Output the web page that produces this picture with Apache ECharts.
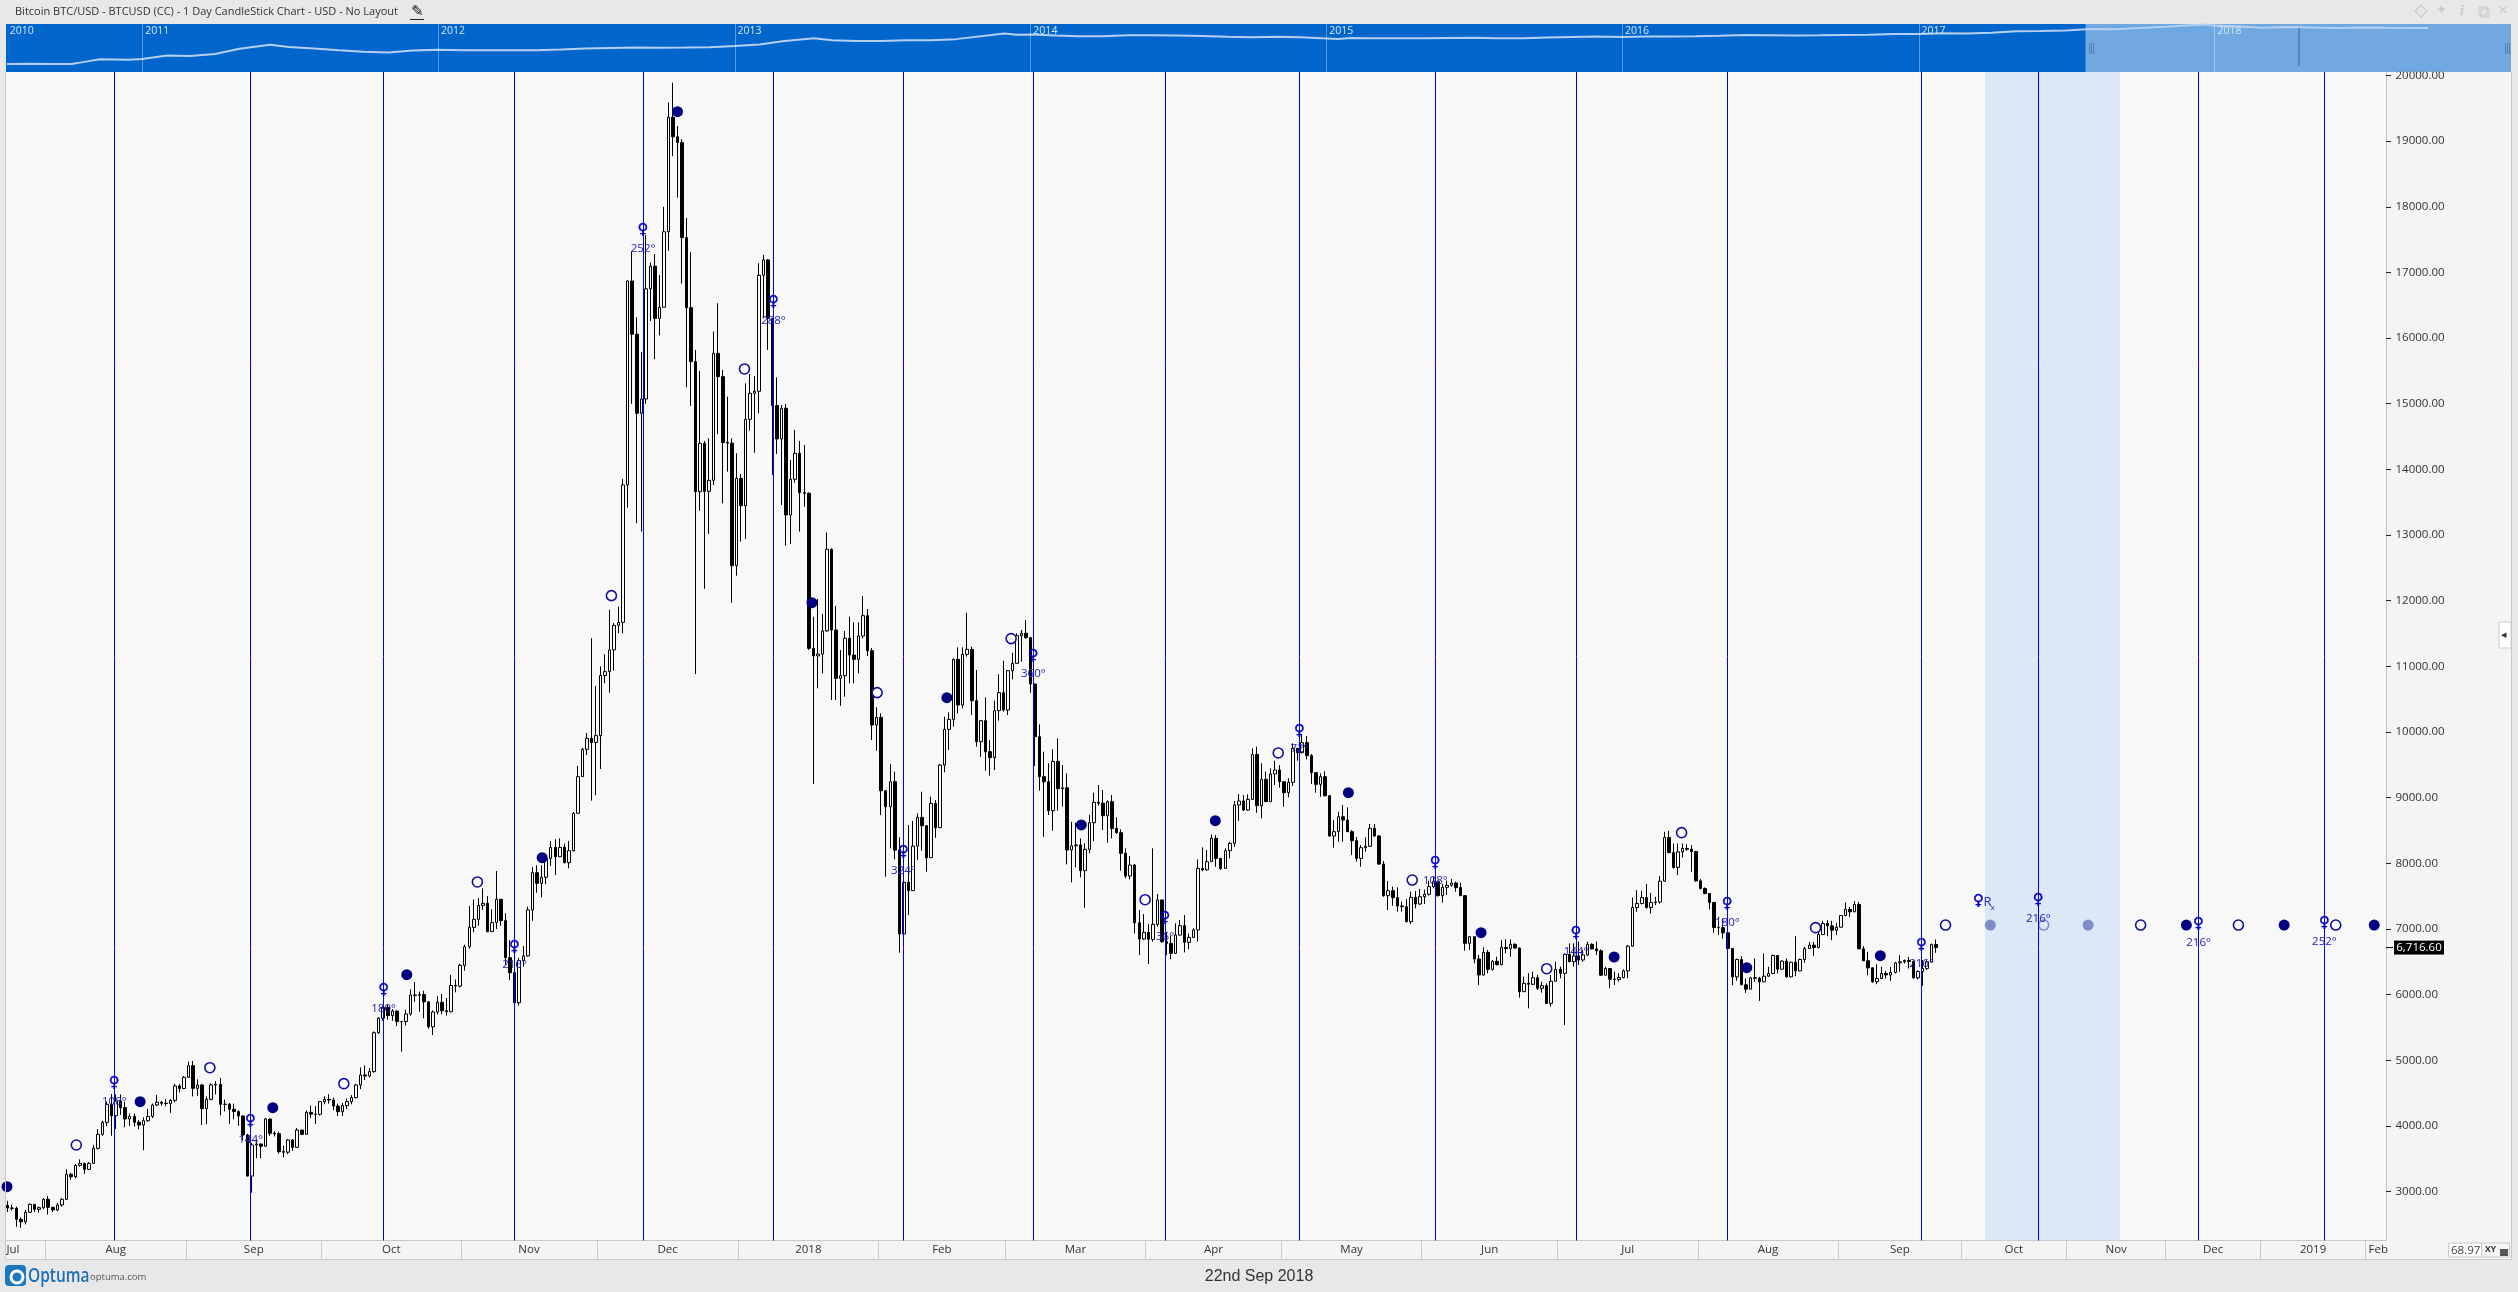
<!DOCTYPE html>
<html><head><meta charset="utf-8">
<style>html,body{margin:0;padding:0;background:#e8e8e8}#c{width:2518px;height:1292px}</style>
<script src="https://cdn.jsdelivr.net/npm/echarts@6/dist/echarts.min.js"></script>
</head><body><div id="c"></div>
<script>
// Daily bars as [close, low, high]; each bar opens at the previous close.
const firstOpen = 2790;
const jul17 = [[2750,2690,2860],[2745,2710,2800],[2577,2466,2770],[2540,2450,2610],[2684,2500,2720],[2806,2690,2820],[2730,2690,2810],[2755,2680,2770],[2882,2730,2900]];
const aug17 = [[2760,2650,2933],[2720,2690,2770],[2796,2700,2830],[2882,2770,2900],[3263,2870,3339],[3227,3180,3290],[3400,3200,3420],[3430,3380,3490],[3339,3270,3440],[3430,3330,3450],[3659,3420,3710],[3872,3640,3950],[4055,3850,4080],[4329,4000,4370],[4157,3850,4487],[4380,3954,4480],[4279,4167,4480],[4106,3980,4370],[4146,4000,4190],[4055,3990,4190],[4014,3950,4090],[4080,3630,4130],[4146,4060,4260],[4319,4120,4340],[4360,4300,4472],[4345,4310,4380],[4340,4300,4410],[4390,4200,4410],[4609,4360,4640],[4570,4510,4640],[4741,4560,4760]];
const sep17 = [[4918,4730,4980],[4573,4450,4990],[4624,4456,4710],[4263,4014,4640],[4405,4025,4450],[4624,4390,4650],[4634,4480,4680],[4329,4160,4730],[4330,4220,4400],[4253,4030,4350],[4220,4100,4340],[4152,4000,4240],[3862,3780,4160],[3237,3230,3880],[3710,2984,3740],[3725,3510,3800],[3690,3507,3730],[4106,3690,4120],[3888,3850,4110],[3880,3840,3920],[3608,3580,3913],[3600,3522,3700],[3786,3570,3800],[3674,3620,3800],[3938,3670,3970],[3872,3860,3920],[4207,3880,4235],[4180,4120,4310],[4177,4030,4300],[4370,4160,4380]];
const oct17 = [[4405,4330,4450],[4395,4340,4482],[4304,4240,4430],[4218,4150,4340],[4310,4150,4350],[4370,4260,4420],[4431,4330,4470],[4624,4420,4640],[4776,4560,4890],[4760,4700,4920],[4827,4740,4880],[5420,4810,5440],[5640,5400,5660],[5806,5600,5830],[5680,5620,5850],[5750,5600,5780],[5590,5522,5760],[5590,5131,5600],[5705,5530,5770],[5994,5680,6080],[5990,5890,6192],[6000,5740,6045],[5890,5639,6060],[5510,5480,5900],[5735,5385,5760],[5883,5700,5979],[5755,5700,6010],[5740,5680,5950],[6140,5730,6299],[6130,6035,6230],[6446,6110,6470]];
const nov17 = [[6730,6365,6760],[7025,6700,7350],[7147,6950,7450],[7360,7050,7470],[7390,7289,7620],[6960,6950,7500],[7097,6960,7300],[7452,7000,7883],[7127,7050,7450],[6563,6450,7240],[6335,6220,6832],[5877,5860,6400],[6517,5832,6560],[6590,6426,6740],[7290,6580,7340],[7858,7125,7940],[7695,7553,7970],[7787,7482,7970],[8075,7680,8100],[8243,7960,8340],[8100,7822,8366],[8243,8100,8380],[8010,8000,8300],[8193,7924,8340],[8762,8180,8780],[9320,8760,9483],[9737,9320,9760],[9904,9650,9985],[9840,8955,11428],[9945,9036,10700]];
const dec17 = [[10860,9437,11000],[10920,10742,11184],[11250,10600,11860],[11625,10935,11660],[11670,11504,11910],[13763,11503,13854],[16870,13417,16880],[16060,15000,17317],[14855,13179,16317],[15073,13052,15790],[16750,15000,17570],[17096,16260,17150],[16300,15680,17280],[16470,16040,16960],[17620,16470,18000],[19364,17330,19590],[19066,18770,19890],[18980,18140,19230],[17530,16830,19030],[16464,15250,17830],[15642,14966,17310],[13661,10884,15820],[14397,13372,15499],[13665,12183,14433],[13834,13016,14474],[15768,13763,16099],[15413,14535,16530],[14408,13483,15515],[14400,13966,15108],[12534,11970,14474],[13864,12381,14245]];
const jan18 = [[13448,12900,13930],[14763,12940,15311],[15159,14590,15454],[15190,14255,15423],[16957,14854,17140],[17191,16300,17267],[16300,15820,17200],[14972,13915,16300],[14464,14235,15403],[14931,13458,14980],[13306,12839,14997],[13849,12864,14144],[14245,13800,14601],[13646,13052,14433],[13636,13433,14372],[11275,11250,13651],[11158,9208,11757],[11188,10665,12026],[11540,10894,11797],[12783,11528,13041],[11554,10487,12798],[10817,10487,11919],[10858,10400,11249],[11427,10538,11538],[11173,10741,11757],[11107,10740,11670],[11462,10894,11670],[11772,11426,12071],[11239,11158,11874],[10107,9878,11280],[10223,9716,10376]];
const feb18 = [[9106,8736,10284],[8863,7796,9100],[9243,8228,9513],[8202,8060,9396],[6923,6639,8395],[7710,6933,7847],[7583,7212,8583],[8263,7583,8644],[8700,8050,8761],[8573,8192,9091],[8086,7872,8583],[8913,8086,9015],[8543,8390,8964],[9497,8543,9513],[10041,9386,10234],[10193,9726,10300],[11107,10081,11122],[10411,10284,11290],[11183,10360,11290],[11259,11148,11818],[10477,10259,11300],[9853,9777,10945],[10173,9624,10183],[9700,9411,10528],[9609,9335,9878],[10325,9421,10477],[10599,10173,10879],[10335,10310,11087]];
const mar18 = [[10934,10259,10945],[11046,10802,11209],[11468,11046,11503],[11503,11071,11554],[11437,11420,11706],[10731,10599,11440],[9929,9482,10731],[9320,9106,10117],[9243,8406,9700],[8802,8736,9523],[9553,8497,9736],[9137,8802,9903],[9150,8863,9497],[8203,7984,9370],[8268,7710,8633],[8280,7938,8619],[7888,7786,8380],[8213,7324,8304],[8619,8152,8736],[8929,8340,9076],[8915,8880,9193],[8725,8507,9116],[8939,8314,8960],[8532,8380,9040],[8467,8450,8700],[8152,7888,8517],[7806,7771,8228],[7974,7756,8111],[7095,6933,7989],[6847,6603,7288],[6948,6832,7227]];
const apr18 = [[6842,6466,7075],[7070,6806,8228],[7441,7035,7532],[6806,6790,7451],[6780,6600,6950],[6628,6537,6900],[6907,6620,7085],[7050,6900,7136],[6796,6643,7212],[6872,6689,6930],[6984,6860,7010],[7923,6806,8060],[7900,7880,8243],[8025,7890,8203],[8380,8020,8441],[8075,7948,8431],[7923,7898,8075],[8192,7920,8230],[8304,8075,8330],[8888,8253,8949],[8949,8649,9056],[8812,8800,9040],[8974,8800,9050],[9660,8970,9751],[8878,8771,9777],[9279,8685,9523],[8939,8939,9396],[9360,8939,9447],[9421,9193,9563],[9243,9152,9497]];
const may18 = [[9076,8863,9243],[9233,9005,9295],[9751,9178,9827],[9685,9563,9751],[9838,9675,9954],[9640,9584,9939],[9381,9208,9665],[9203,9076,9381],[9320,9015,9370],[9030,9020,9401],[8416,8406,9030],[8482,8238,8660],[8710,8329,8786],[8660,8329,8888],[8482,8482,8852],[8345,8126,8507],[8075,8025,8400],[8239,7949,8280],[8260,8177,8395],[8533,8250,8599],[8416,8405,8599],[7989,7974,8431],[7507,7490,8035],[7583,7288,7730],[7477,7355,7645],[7350,7264,7634],[7340,7264,7416],[7112,7100,7452],[7482,7076,7569],[7381,7314,7579],[7492,7365,7609]];
const jun18 = [[7528,7381,7600],[7645,7510,7736],[7720,7619,7797],[7508,7492,7721],[7634,7401,7685],[7665,7518,7736],[7700,7645,7762],[7630,7568,7721],[7508,7500,7706],[6781,6670,7508],[6883,6680,6895],[6543,6477,6880],[6299,6147,6604],[6644,6290,6720],[6385,6324,6680],[6507,6365,6527],[6456,6446,6578],[6720,6446,6830],[6700,6629,6842],[6766,6578,6842],[6710,6700,6781],[6045,5954,6720],[6172,6045,6274],[6157,5791,6325],[6258,6147,6350],[6096,6070,6300],[6136,6030,6197],[5867,5860,6172],[6203,5816,6299],[6385,6197,6502]];
const jul18 = [[6324,6248,6426],[6614,5537,6629],[6502,6492,6780],[6590,6426,6781],[6528,6451,6807],[6604,6502,6680],[6766,6594,6807],[6697,6690,6781],[6667,6604,6807],[6296,6289,6690],[6398,6296,6426],[6235,6096,6400],[6230,6147,6350],[6260,6197,6325],[6362,6248,6385],[6738,6250,6756],[7327,6727,7480],[7388,7261,7591],[7480,7373,7581],[7327,7312,7683],[7403,7236,7551],[7413,7363,7490],[7728,7388,7805],[8394,7718,8480],[8165,8150,8495],[7937,7921,8302],[8175,7820,8302],[8226,8089,8302],[8215,8190,8292],[8180,7870,8277],[7733,7718,8190]];
const aug18 = [[7617,7601,7759],[7540,7530,7632],[7403,7297,7540],[7023,6941,7413],[7020,6906,7185],[6941,6855,7160],[6703,6687,6941],[6271,6144,6713],[6535,6210,6550],[6150,6144,6586],[6083,6027,6246],[6256,6083,6271],[6250,6195,6550],[6195,5905,6271],[6281,6195,6626],[6322,6271,6423],[6596,6312,6611],[6388,6322,6601],[6510,6383,6525],[6271,6261,6550],[6494,6261,6500],[6362,6281,6890],[6535,6357,6550],[6703,6484,6728],[6754,6693,6804],[6718,6591,6804],[6916,6703,7033],[7083,6906,7124],[7048,6890,7134],[6982,6830,7124],[7027,6906,7094]];
const sep18 = [[7205,7023,7210],[7297,7195,7403],[7261,7185,7337],[7373,7271,7424],[6697,6697,7413],[6515,6510,6738],[6408,6296,6652],[6195,6180,6413],[6246,6159,6464],[6322,6235,6423],[6300,6246,6363],[6337,6210,6423],[6484,6322,6500],[6500,6347,6601],[6520,6474,6535],[6505,6398,6576],[6256,6246,6520],[6352,6230,6373],[6398,6134,6525],[6500,6373,6525],[6763,6494,6778],[6716.6,6637,6840]];
const lastPrice = 6716.6;

// Axis content
const priceTicks = [3000,4000,5000,6000,7000,8000,9000,10000,11000,12000,13000,14000,15000,16000,17000,18000,19000,20000];
const monthEdges = [8.4,39.4,69.3,100.3,130.2,161.4,192.4,220.4,251.4,281.4,312.4,342.4,373.4,404.4,431.6,454.8,476.7,497.7,520.9];
const monthNames = ['Jul','Aug','Sep','Oct','Nov','Dec','2018','Feb','Mar','Apr','May','Jun','Jul','Aug','Sep','Oct','Nov','Dec','2019','Feb'];
const monthCentres = [1.2,23.9,54.4,84.8,115.2,145.8,176.9,206.4,235.9,266.4,296.9,327.4,357.9,388.9,418,443.2,465.8,487.2,509.3,523.7];

// Cycle lines and planet marks, x in bar number, y in price
const cycleBars = [23.6,53.7,83.1,112,140.4,169.2,197.9,226.6,255.7,285.4,315.4,346.5,379.9,422.8,448.6,484,511.8];
const cyclePrices = [4654,4075,6071,6730,17647,16550,8173,11163,7168,10020,8010,6934,7381,6756,7442,7076,7092];
const cycleDegrees = ['108°','144°','180°','216°','252°','288°','324°','360°','36°','72°','108°','144°','180°','216°','216°','216°','252°'];
const retroBar = 435.4, retroPrice = 7431;
const shadedBars = [436.8,466.6];
const filledBars = [-0.1,29.3,58.6,88.2,118.1,148,177.7,207.5,237.2,266.8,296.2,325.5,354.9,384.2,413.7,438,459.6,481.3,502.9,522.8];
const filledPrices = [3075,4369,4278,6304,8086,19449,11970,10523,8584,8650,9076,6944,6573,6411,6593,7060,7060,7060,7060,7060];
const hollowBars = [15.2,44.7,74.3,103.8,133.4,162.8,192.1,221.7,251.3,280.7,310.3,340,369.8,399.4,428.1,449.8,471.2,492.8,514.3];
const hollowPrices = [3710,4887,4644,7716,12077,15530,10600,11423,7446,9681,7745,6395,8467,7020,7060,7060,7060,7060,7060];

// Overview strip
const overviewDates = ['2010-07-18','2010-08-15','2010-09-15','2010-10-06','2010-10-20','2010-11-10','2010-12-15','2011-01-01','2011-02-01','2011-03-01','2011-04-01','2011-05-01','2011-06-08','2011-07-01','2011-08-01','2011-09-01','2011-10-01','2011-11-01','2011-12-01','2012-01-01','2012-02-01','2012-03-01','2012-04-01','2012-05-01','2012-06-01','2012-07-01','2012-08-01','2012-09-01','2012-10-01','2012-11-01','2012-12-01','2013-01-01','2013-02-01','2013-03-01','2013-04-09','2013-05-01','2013-06-01','2013-07-01','2013-08-01','2013-09-01','2013-10-01','2013-11-30','2013-12-15','2014-01-01','2014-02-01','2014-03-01','2014-04-01','2014-05-01','2014-06-01','2014-07-01','2014-08-01','2014-09-01','2014-10-01','2014-11-01','2014-12-01','2015-01-15','2015-02-01','2015-03-01','2015-04-01','2015-05-01','2015-06-01','2015-07-01','2015-08-01','2015-09-01','2015-10-01','2015-11-01','2015-12-01','2016-01-01','2016-02-01','2016-03-01','2016-04-01','2016-05-01','2016-06-01','2016-07-01','2016-08-01','2016-09-01','2016-10-01','2016-11-01','2016-12-01','2017-01-01','2017-02-01','2017-03-01','2017-04-01','2017-05-01','2017-06-01','2017-07-01','2017-08-01','2017-09-01','2017-10-01','2017-11-01','2017-12-17','2018-01-01','2018-02-01','2018-03-01','2018-04-01','2018-05-01','2018-06-01','2018-07-01','2018-08-01','2018-09-22'];
const overviewPrices = [0.06,0.065,0.06,0.062,0.11,0.27,0.24,0.3,0.9,0.8,1.5,8,30,14,9,5,3,2.5,4.5,6,5,5,5,5.1,6.5,8.8,10.5,12,11,12,13.5,20,33,90,230,125,100,100,125,130,180,1100,750,830,580,460,450,620,640,590,480,390,340,380,320,190,250,245,235,230,260,285,230,235,310,370,430,370,435,415,450,530,670,620,575,610,700,740,960,970,1190,1080,1350,2300,2480,2870,4700,4340,6450,9950,19400,14000,10300,6900,9200,7500,6400,7700,7000,6716.6];
const yearLabels = ['2010','2011','2012','2013','2014','2015','2016','2017','2018'];
const yearDates = ['2010-07-18','2011-01-01','2012-01-01','2013-01-01','2014-01-01','2015-01-01','2016-01-01','2017-01-01','2018-01-01'];
const selectionStart = '2017-07-26';

// Build the candle rows
const dailyBars = [].concat(jul17,aug17,sep17,oct17,nov17,dec17,jan18,feb18,mar18,apr18,may18,jun18,jul18,aug18,sep18);
let prevClose = firstOpen;
const candleRows = dailyBars.map((b,i)=>{
  const o = prevClose, c = b[0];
  prevClose = c;
  return [i,o,c,Math.min(b[1],o,c),Math.max(b[2],o,c)];
});

const FONT = '"Open Sans"';
const priceMin = 2252, priceMax = 20053, barMin = -0.33, barMax = 525.4;
const BLUE = '#0000ff', NAVY = '#000080';

const chart = echarts.init(document.getElementById('c'),null,{renderer:'canvas',width:2518,height:1292});

function txt(x,y,text,size,color,extra){
  return {type:'text',x:x,y:y,silent:true,z:20,style:Object.assign({text:text,fontFamily:FONT,fontSize:size,fill:color,textVerticalAlign:'middle'},extra||{})};
}
function box(x,y,w,h,fill,z){return {type:'rect',silent:true,z:z==null?-5:z,shape:{x:x,y:y,width:w,height:h},style:{fill:fill}};}
function ln(x1,y1,x2,y2,c,w,z){return {type:'line',silent:true,z:z==null?20:z,shape:{x1:x1,y1:y1,x2:x2,y2:y2},style:{stroke:c,lineWidth:w||1}};}

const logoWord = txt(28,1276,'Optuma',15.5,'#1b6fb5',{fontWeight:'600'});
logoWord.scaleY = 1.3;

const chrome = [
  box(2386,72,125,1169,'#f4f4f4'),
  box(6,1241,2505,18,'#f4f4f4'),
  ln(5.5,72,5.5,1259,'#c8c8c8',1),
  ln(2511.5,72,2511.5,1259,'#c8c8c8',1),
  ln(5.5,1259.5,2511.5,1259.5,'#c8c8c8',1),
  txt(15,12,'Bitcoin BTC/USD - BTCUSD (CC) - 1 Day CandleStick Chart - USD - No Layout',11,'#333'),
  txt(411,12,'✎',15,'#111',{fontFamily:'DejaVu Sans',fontWeight:'bold'}),
  ln(410,19.5,424,19.5,'#222',1),
  {type:'polygon',silent:true,z:20,shape:{points:[[2421,5],[2427,11],[2421,17],[2415,11]]},style:{fill:'none',stroke:'#cccccc',lineWidth:1.3}},
  txt(2436,11,'✦',13,'#c8c8c8',{fontFamily:'DejaVu Sans'}),
  txt(2460,11,'i',14,'#c8c8c8',{fontStyle:'italic',fontWeight:'bold',fontFamily:'Liberation Serif'}),
  {type:'rect',silent:true,z:20,shape:{x:2479,y:7,width:8,height:8},style:{fill:'none',stroke:'#c8c8c8',lineWidth:1}},
  {type:'rect',silent:true,z:20,shape:{x:2481,y:9,width:8,height:8},style:{fill:'none',stroke:'#c8c8c8',lineWidth:1}},
  txt(2498,11,'✕',12,'#c8c8c8',{fontFamily:'DejaVu Sans',fontWeight:'bold'}),
  // overview handles and marker
  ln(2299,28,2299,66,'#3d6ea6',1.2),
  ln(2089.5,43,2089.5,54,'#557fad',1), ln(2091.5,43,2091.5,54,'#557fad',1), ln(2093.5,43,2093.5,54,'#557fad',1),
  ln(2505.5,43,2505.5,54,'#557fad',1), ln(2507.5,43,2507.5,54,'#557fad',1), ln(2509.5,43,2509.5,54,'#557fad',1),
  // side tab
  {type:'rect',silent:true,z:20,shape:{x:2499,y:622,width:12,height:26},style:{fill:'#ffffff',stroke:'#cccccc',lineWidth:1}},
  txt(2501,635,'◂',11,'#333',{fontFamily:'DejaVu Sans'}),
  // bottom right scale box
  {type:'rect',silent:true,z:20,shape:{x:2448.5,y:1243,width:33,height:14},style:{fill:'#ffffff',stroke:'#c8c8c8',lineWidth:1}},
  txt(2451,1250.5,'68.97',11.5,'#444'),
  {type:'rect',silent:true,z:20,shape:{x:2481.5,y:1243,width:28,height:14},style:{fill:'#f4f4f4',stroke:'#c8c8c8',lineWidth:1}},
  txt(2485,1250,'XY',8.5,'#333',{fontWeight:'bold'}),
  {type:'rect',silent:true,z:20,shape:{x:2500,y:1249,width:8,height:7},style:{fill:'#555'}},
  // footer
  txt(1259,1277,'22nd Sep 2018',16,'#333',{textAlign:'center',fontFamily:'Liberation Sans'}),
  {type:'rect',silent:true,z:20,shape:{x:5,y:1265,width:21,height:21,r:4},style:{fill:'#1b78bd'}},
  {type:'circle',silent:true,z:21,shape:{cx:17,cy:1277,r:6},style:{fill:'none',stroke:'#ffffff',lineWidth:3}},
  logoWord,
  txt(90,1277,'optuma.com',9.5,'#555')
];

function venusGlyph(x,y){
  return {type:'text',style:{text:'♀',x:x,y:y,fill:'#0000c8',stroke:'#0000c8',lineWidth:0.4,fontFamily:'DejaVu Sans',fontWeight:'bold',fontSize:15,align:'center',verticalAlign:'middle'}};
}

const option = {
  animation:false,
  backgroundColor:'#e8e8e8',
  graphic:{elements:chrome},
  grid:[
    {left:6,top:72,width:2380,height:1168.7,show:true,backgroundColor:'#f8f8f8',borderWidth:0,containLabel:false},
    {left:6,top:24,width:2505,height:48,show:true,backgroundColor:'#0066cc',borderWidth:0,containLabel:false}
  ],
  xAxis:[
    {type:'value',gridIndex:0,min:barMin,max:barMax,splitLine:{show:false},
     axisLine:{show:true,onZero:false,lineStyle:{color:'#c8c8c8',width:1}},
     axisTick:{show:true,length:18,customValues:monthEdges,lineStyle:{color:'#c8c8c8',width:1}},
     axisLabel:{show:true,margin:3,customValues:monthCentres,fontFamily:FONT,fontSize:11.5,color:'#333',hideOverlap:false,
       formatter:v=>{const k=monthCentres.indexOf(v);return k>=0?monthNames[k]:'';}}},
    {type:'time',gridIndex:1,min:new Date('2010-07-17').getTime(),max:new Date('2019-01-02').getTime(),show:false}
  ],
  yAxis:[
    {type:'value',gridIndex:0,position:'right',min:priceMin,max:priceMax,splitLine:{show:false},
     axisLine:{show:true,onZero:false,lineStyle:{color:'#c4c4c4',width:1}},
     axisTick:{show:true,length:5,customValues:priceTicks,lineStyle:{color:'#222',width:1}},
     axisLabel:{show:true,margin:9.5,customValues:priceTicks,fontFamily:FONT,fontSize:11.5,color:'#333',formatter:v=>v.toFixed(2)}},
    {type:'value',gridIndex:1,min:-2.34,max:4.37,show:false}
  ],
  series:[
    {type:'candlestick',name:'BTCUSD',xAxisIndex:0,yAxisIndex:0,z:2,barWidth:3,clip:true,
     encode:{x:0,y:[1,2,3,4]},data:candleRows,
     itemStyle:{color:'#fbfbfb',color0:'#000000',borderColor:'#000000',borderColor0:'#000000',borderWidth:1}},
    {type:'scatter',name:'filled',xAxisIndex:0,yAxisIndex:0,z:3,clip:true,symbol:'circle',symbolSize:11,
     data:filledBars.map((b,i)=>[b,filledPrices[i]]),itemStyle:{color:NAVY,opacity:1}},
    {type:'scatter',name:'hollow',xAxisIndex:0,yAxisIndex:0,z:3,clip:true,symbol:'circle',symbolSize:10,
     data:hollowBars.map((b,i)=>[b,hollowPrices[i]]),itemStyle:{color:'#fdfdfd',borderColor:'#10109c',borderWidth:1.6,opacity:1}},
    {type:'custom',name:'shade',xAxisIndex:0,yAxisIndex:0,z:4,clip:true,silent:true,data:[shadedBars],
     renderItem:(p,api)=>{const a=api.coord([api.value(0),priceMax]),b=api.coord([api.value(1),priceMin]);
       return {type:'rect',shape:{x:a[0],y:a[1],width:b[0]-a[0],height:b[1]-a[1]},style:{fill:'rgba(202,221,243,0.63)'}};}},
    {type:'custom',name:'cycles',xAxisIndex:0,yAxisIndex:0,z:5,clip:true,silent:true,data:cycleBars.map(b=>[b]),
     renderItem:(p,api)=>{const a=api.coord([api.value(0),priceMax]),b=api.coord([api.value(0),priceMin]);
       const x=Math.floor(a[0])+0.5;
       return {type:'line',shape:{x1:x,y1:a[1],x2:x,y2:b[1]},style:{stroke:BLUE,lineWidth:1}};}},
    {type:'custom',name:'venus',xAxisIndex:0,yAxisIndex:0,z:6,clip:false,silent:true,
     data:cycleBars.map((b,i)=>[b,cyclePrices[i]]),
     renderItem:(p,api)=>{const c=api.coord([api.value(0),api.value(1)]);
       return {type:'group',children:[
         venusGlyph(c[0],c[1]),
         {type:'text',style:{text:cycleDegrees[p.dataIndex],x:c[0],y:c[1]+18.3,fill:'#2222b8',fontFamily:FONT,fontSize:11.5,align:'center',verticalAlign:'middle'}}
       ]};}},
    {type:'custom',name:'retro',xAxisIndex:0,yAxisIndex:0,z:6,clip:false,silent:true,data:[[retroBar,retroPrice]],
     renderItem:(p,api)=>{const c=api.coord([api.value(0),api.value(1)]);
       return {type:'group',children:[
         venusGlyph(c[0],c[1]),
         {type:'text',style:{text:'R',x:c[0]+5,y:c[1]+2,fill:'#2a2ac0',fontFamily:FONT,fontSize:13,align:'left',verticalAlign:'middle'}},
         {type:'text',style:{text:'x',x:c[0]+12,y:c[1]+7,fill:'#2a2ac0',fontFamily:FONT,fontSize:8,align:'left',verticalAlign:'middle'}}
       ]};}},
    {type:'custom',name:'last',xAxisIndex:0,yAxisIndex:0,z:7,clip:false,silent:true,data:[[barMax,lastPrice]],
     renderItem:(p,api)=>{const c=api.coord([api.value(0),api.value(1)]);
       return {type:'group',children:[
         {type:'line',shape:{x1:c[0],y1:c[1],x2:c[0]+8,y2:c[1]},style:{stroke:'#000',lineWidth:1}},
         {type:'rect',shape:{x:c[0]+7.5,y:c[1]-7.5,width:51,height:15},style:{fill:'#000',stroke:'#fff',lineWidth:1}},
         {type:'text',style:{text:lastPrice.toLocaleString('en-US',{minimumFractionDigits:2}),x:c[0]+33,y:c[1],fill:'#fff',fontFamily:FONT,fontSize:11.5,align:'center',verticalAlign:'middle'}}
       ]};}},
    {type:'line',name:'overview',xAxisIndex:1,yAxisIndex:1,z:3,symbol:'none',silent:true,
     data:overviewDates.map((d,i)=>[d,Math.log10(overviewPrices[i])]),
     lineStyle:{color:'#b4cff0',width:2},
     markArea:{silent:true,z:2,itemStyle:{color:'rgba(255,255,255,0.44)'},data:[[{xAxis:selectionStart},{xAxis:new Date('2019-01-02').getTime()}]]}},
    {type:'custom',name:'years',xAxisIndex:1,yAxisIndex:1,z:4,silent:true,clip:false,
     data:yearDates.map((d,i)=>[d,i]),
     renderItem:(p,api)=>{const x=api.coord([api.value(0),0])[0];const i=p.dataIndex;
       const kids=[{type:'text',style:{text:yearLabels[i],x:x+3,y:31,fill:'#d6e6f8',fontFamily:FONT,fontSize:10.5,align:'left',verticalAlign:'middle'}}];
       if(i>0)kids.unshift({type:'line',shape:{x1:Math.round(x)+0.5,y1:24,x2:Math.round(x)+0.5,y2:72},style:{stroke:'rgba(255,255,255,0.35)',lineWidth:1}});
       return {type:'group',children:kids};}}
  ]
};
chart.setOption(option);
</script></body></html>
